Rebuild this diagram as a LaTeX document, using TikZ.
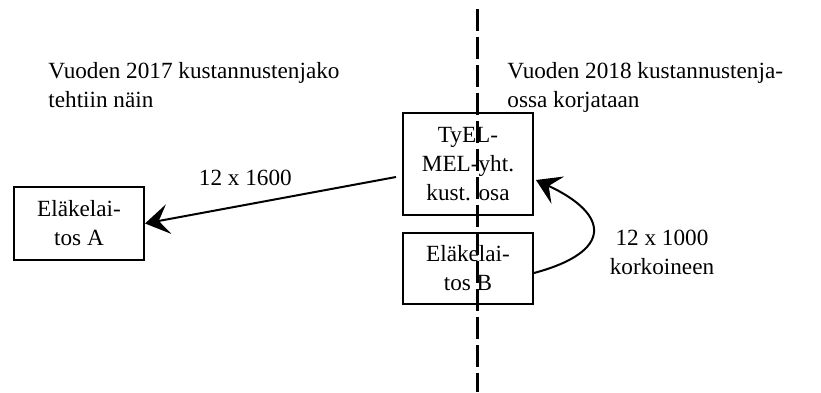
\documentclass[tikz,border=0pt]{standalone}
\usepackage{fontspec}
\setmainfont{Liberation Serif}
\usepackage{tikz}
\usetikzlibrary{calc,arrows.meta}
\def\laatikko{\node[draw=black, line width=1pt, align=center, minimum width=65pt, inner sep=2pt]}
\def\teksti{\node[align=left, inner sep=0pt, anchor=north west]}
\def\drawnuoli{\draw[-{Stealth[length=12pt,width=15pt,inset=5pt]}, line width=1pt]}

\begin{document}
\begin{tikzpicture}[x=0.5pt,y=0.5pt,font=\fontsize{11.6}{14.5}\selectfont]
\useasboundingbox (0,0) rectangle (821,392);

% otsikot kummallekin vuodelle
\teksti (vuosi2017) at (48,330) {Vuoden 2017 kustannustenjako\\tehtiin näin};
\teksti (vuosi2018) at (507,330) {Vuoden 2018 kustannustenja-\\ossa korjataan};

% laatikot
\laatikko[minimum height=36.5pt] (elaA) at (79,168.5) {Eläkelai-\\tos A};
\laatikko[minimum height=51pt] (tyel) at (468,228) {TyEL-\\MEL-yht.\\kust. osa};
\laatikko[minimum height=35.5pt] (elaB) at (468,123.5) {Eläkelai-\\tos B};

% siirrot
\coordinate (lahto) at ($ (tyel.west) + (-6,-13) $);
\drawnuoli (lahto) to node[above=6pt, pos=0.6] (siirto1600) {12 x 1600} (elaA.east);
\coordinate (lahtoB) at ($ (elaB.east) + (0,-4.5) $);
\coordinate (tuloB) at ($ (tyel.east) + (2,-16) $);
\drawnuoli[out=15,in=-25,looseness=2.25] (lahtoB) to (tuloB);
\node[align=center, inner sep=0pt] (siirto1000) at (662,140) {12 x 1000\\korkoineen};

% vuosien raja
\coordinate (rajaYla) at (477,383);
\coordinate (rajaAla) at (477,0);
\draw[line width=1.5pt, dash pattern=on 11pt off 3pt] (rajaYla) -- (rajaAla);
\end{tikzpicture}
\end{document}
